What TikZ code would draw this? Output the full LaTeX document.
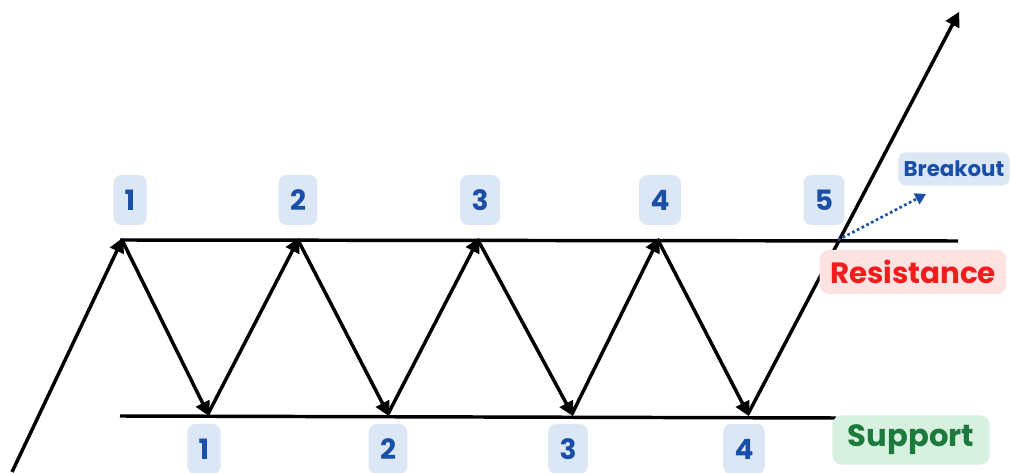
\documentclass[tikz,border=0pt]{standalone}
\usepackage{fontspec}
\setmainfont{Poppins}
\usetikzlibrary{arrows.meta}
\definecolor{lblue}{HTML}{DCE7F5}
\definecolor{dblue}{HTML}{1A4FA8}
\definecolor{lpink}{HTML}{FDE2E2}
\definecolor{rred}{HTML}{F21C1C}
\definecolor{lgreen}{HTML}{D8F0E0}
\definecolor{dgreen}{HTML}{1B7A3C}
\tikzset{
  num/.style={fill=lblue, rounded corners=6pt, text=dblue, font=\bfseries\fontsize{21}{21}\selectfont, minimum height=37.5pt, inner xsep=8.5pt, inner ysep=0pt},
  mv/.style={line width=2.6pt, -{Triangle[length=11pt,width=11pt]}, shorten >=-2pt},
  lvl/.style={line width=2.6pt},
}
\begin{document}
\begin{tikzpicture}[x=0.75pt,y=-0.75pt]
\useasboundingbox (0,0) rectangle (1010,473);
% points
\coordinate (s) at (12,472);
\coordinate (t1) at (122,240);
\coordinate (b1) at (208,414);
\coordinate (t2) at (298,240);
\coordinate (b2) at (388,414);
\coordinate (t3) at (478,240);
\coordinate (b3) at (572,414);
\coordinate (t4) at (658,240);
\coordinate (b4) at (748,414);
\coordinate (e) at (958,14);
\coordinate (bo) at (838,240);
\coordinate (bt) at (926,194);
% levels
\coordinate (rl) at (120,240);
\coordinate (rr) at (958,241);
\coordinate (sl) at (120,416);
\coordinate (sr) at (836,418);
\draw[lvl] (rl) -- (rr);
\draw[lvl] (sl) -- (sr);
% price path
\draw[mv] (s) -- (t1);
\draw[mv] (t1) -- (b1);
\draw[mv] (b1) -- (t2);
\draw[mv] (t2) -- (b2);
\draw[mv] (b2) -- (t3);
\draw[mv] (t3) -- (b3);
\draw[mv] (b3) -- (t4);
\draw[mv] (t4) -- (b4);
\draw[mv] (b4) -- (e);
% labels top
\node[num] (n1) at (130,200) {1};
\node[num] (n2) at (298,200) {2};
\node[num] (n3) at (480,200) {3};
\node[num] (n4) at (660,200) {4};
\node[num] (n5) at (824,200) {5};
% labels bottom
\node[num] (m1) at (204,449) {1};
\node[num] (m2) at (388,449) {2};
\node[num] (m3) at (568,449) {3};
\node[num] (m4) at (744,449) {4};
% breakout
\node[fill=lblue, rounded corners=6pt, text=dblue, font=\bfseries\fontsize{16}{16}\selectfont, minimum height=25pt, inner xsep=4pt, inner ysep=0pt, anchor=west] (brk) at (898,169) {Breakout};
\draw[dblue, line width=2pt, dotted, -{Triangle[length=8pt,width=9pt]}] (bo) -- (bt);
% resistance / support
\node[fill=lpink, rounded corners=7pt, text=rred, font=\bfseries\fontsize{22}{22}\selectfont, minimum width=140pt, minimum height=33pt, inner sep=2pt] (res) at (913,272) {Resistance};
\node[fill=lgreen, rounded corners=7pt, text=dgreen, font=\bfseries\fontsize{23}{23}\selectfont, minimum width=118pt, minimum height=37pt, inner sep=2pt] (sup) at (911,440) {Support};
\end{tikzpicture}
\end{document}
